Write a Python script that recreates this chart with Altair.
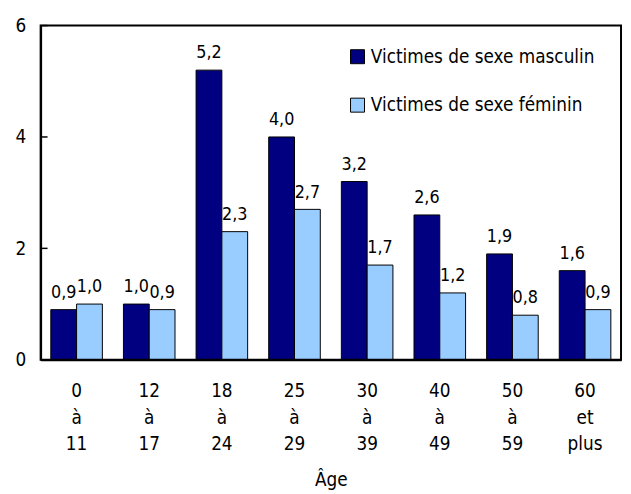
import altair as alt
import pandas as pd

ages = ["0|à|11", "12|à|17", "18|à|24", "25|à|29", "30|à|39", "40|à|49", "50|à|59", "60|et|plus"]
male = [0.9, 1.0, 5.2, 4.0, 3.2, 2.6, 1.9, 1.6]
female = [1.0, 0.9, 2.3, 2.7, 1.7, 1.2, 0.8, 0.9]
series = ["Victimes de sexe masculin", "Victimes de sexe féminin"]
colors = ["#000080", "#99CCFF"]
yticks = [0, 2, 4, 6]

rows = []
for a, m, f in zip(ages, male, female):
    rows.append({"age": a, "sex": series[0], "value": m})
    rows.append({"age": a, "sex": series[1], "value": f})
df = pd.DataFrame(rows)

FONT = "DejaVu Sans Condensed, Liberation Sans Narrow, Liberation Sans, sans-serif"
FS = 19
W, H = 587, 338

x = alt.X("age:N", sort=ages, title="Âge",
          scale=alt.Scale(paddingInner=0.29, paddingOuter=0.14),
          axis=alt.Axis(labelAngle=0, labelExpr="split(datum.label, '|')",
                        labelFontSize=FS, labelLineHeight=27, labelPadding=22,
                        ticks=False, domain=True, domainColor="black", domainWidth=2,
                        titleFontSize=FS,
                        titleFontWeight="normal", titlePadding=17,
                        labelColor="black", titleColor="black", labelFont=FONT, titleFont=FONT))
y = alt.Y("value:Q", title=None,
          scale=alt.Scale(domain=[0, 6], nice=False),
          axis=alt.Axis(values=yticks, format="d", ticks=False, domain=True,
                        domainColor="black", domainWidth=2, grid=False,
                        labelFontSize=FS, labelPadding=15, labelColor="black", labelFont=FONT))
xo = alt.XOffset("sex:N", sort=series)

base = alt.Chart(df)

bars = base.mark_bar(stroke="black", strokeWidth=1).encode(
    x=x, xOffset=xo, y=y,
    color=alt.Color("sex:N", sort=series, title=None,
                    scale=alt.Scale(domain=series, range=colors),
                    legend=alt.Legend(orient="none", legendX=311, legendY=22,
                                      symbolType="square", symbolSize=200,
                                      symbolStrokeColor="black", symbolStrokeWidth=1,
                                      labelFontSize=FS, labelFont=FONT, labelColor="black",
                                      labelLimit=0, rowPadding=29, labelOffset=4)),
)

text = base.transform_calculate(
    lab="replace(format(datum.value, '.1f'), '.', ',')"
).mark_text(baseline="alphabetic", dy=-12, fontSize=18, font=FONT, color="black").encode(
    x=alt.X("age:N", sort=ages), xOffset=xo, y="value:Q", text="lab:N"
)

ticks = alt.Chart(pd.DataFrame({"t": yticks})).mark_rule(color="black", strokeWidth=1.5).encode(
    y="t:Q", x=alt.value(0), x2=alt.value(7)
)

frame = alt.Chart(pd.DataFrame({"t": [min(yticks)], "t2": [max(yticks)]})).mark_rect(
    fillOpacity=0, fill="white", stroke="black", strokeWidth=2).encode(
    y="t:Q", y2="t2:Q", x=alt.value(0), x2=alt.value(W)
)

chart = alt.layer(bars, text, ticks, frame).properties(
    width=W, height=H,
    autosize=alt.AutoSizeParams(type="none"),
    padding={"left": 33, "top": 15, "right": 2, "bottom": 133},
).configure(font=FONT).configure_view(stroke=None)

chart.save("out.html", embed_options={"renderer": "svg", "actions": False})
